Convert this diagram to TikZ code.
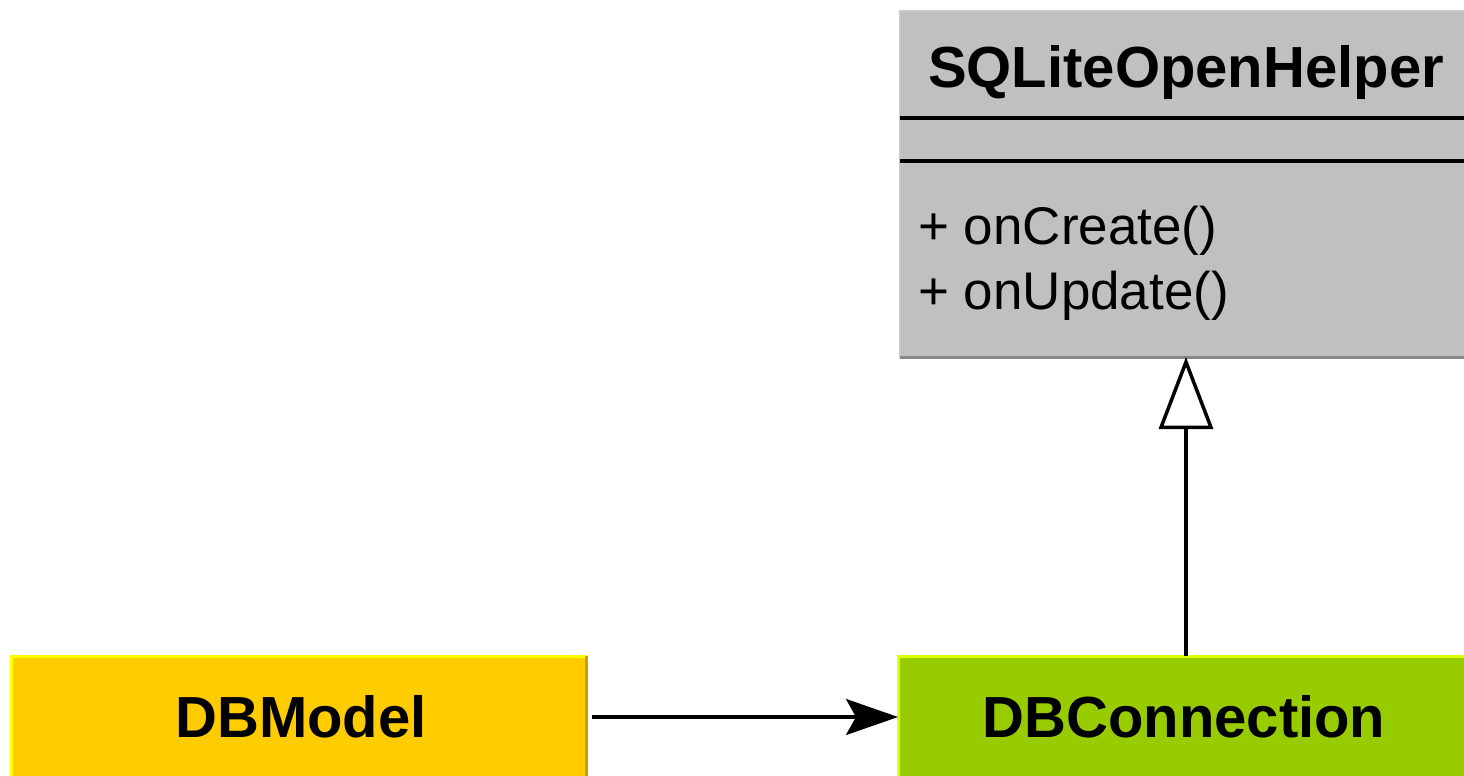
\documentclass[tikz,border=0pt]{standalone}
\usepackage{fontspec}
\setmainfont{Liberation Sans}
\usetikzlibrary{arrows.meta}
\definecolor{helpergray}{HTML}{C0C0C0}
\definecolor{helperedge}{HTML}{888888}
\definecolor{modelfill}{HTML}{FFCC00}
\definecolor{modeledge}{HTML}{FFFF00}
\definecolor{modelright}{HTML}{C8A000}
\definecolor{connfill}{HTML}{99CC00}
\definecolor{connedge}{HTML}{DDFF00}
\tikzset{
  classbox/.style={rectangle, inner sep=0pt, outer sep=0pt},
  boldlabel/.style={font=\fontsize{58}{62}\selectfont\bfseries, inner sep=0pt, anchor=base},
  methodlabel/.style={font=\fontsize{53}{58}\selectfont, inner sep=0pt, anchor=base west},
  connector/.style={line width=3.5pt, draw=black},
}
\begin{document}
\begin{tikzpicture}[x=1pt, y=-1pt]
\useasboundingbox (0,0) rectangle (1464,776);
\clip (0,0) rectangle (1464,776);
% SQLiteOpenHelper class box
\node[classbox, fill=helpergray, draw=helpergray!85!white, line width=2pt,
      minimum width=580pt, minimum height=346pt, anchor=north west] (helper) at (900,11) {};
\draw[helperedge, line width=3pt] (helper.south west) -- (helper.south east);
\draw[line width=3.5pt] ([yshift=-107pt]helper.north west) -- ([yshift=-107pt]helper.north east);
\draw[line width=3.5pt] ([yshift=-150pt]helper.north west) -- ([yshift=-150pt]helper.north east);
\node[boldlabel] (title) at (1186,88) {SQLiteOpenHelper};
\node[methodlabel] (m1) at (918,244) {+ onCreate()};
\node[methodlabel] (m2) at (918,309) {+ onUpdate()};
% DBModel box
\node[classbox, fill=modelfill, draw=modeledge, line width=3pt,
      minimum width=575pt, minimum height=160pt, anchor=north west] (model) at (11,656) {};
\draw[modelright, line width=3pt] (model.north east) -- (model.south east);
\node[boldlabel] (modeltext) at (301,737) {DBModel};
% DBConnection box
\node[classbox, fill=connfill, draw=connedge, line width=3pt,
      minimum width=580pt, minimum height=160pt, anchor=north west] (conn) at (898,656) {};
\node[boldlabel] (conntext) at (1184,737) {DBConnection};
% connectors
\coordinate (modelout) at ([xshift=6pt]model.east |- 0,717);
\coordinate (connin) at (conn.west |- 0,717);
\draw[connector, -{Stealth[length=52pt, width=36pt, inset=10pt]}] (modelout) -- (connin);
\coordinate (connup) at (conn.north -| 1186,0);
\coordinate (helperdown) at (helper.south -| 1186,0);
\draw[connector, -{Triangle[open, length=72pt, width=54pt, fill=white, line width=3.5pt]}] (connup) -- (helperdown);
\end{tikzpicture}
\end{document}
